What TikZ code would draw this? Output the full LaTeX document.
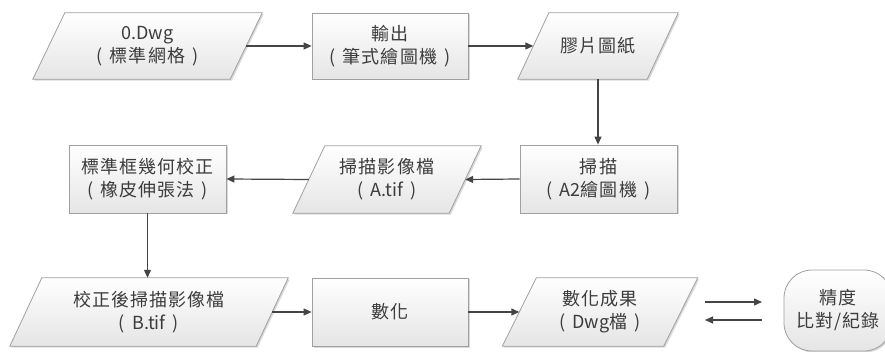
\documentclass[tikz,border=0pt]{standalone}
\usepackage{fontspec}
\setmainfont{Noto Sans CJK TC}
\usetikzlibrary{arrows.meta,shadows}
\definecolor{txt}{HTML}{3C3C3C}
\definecolor{edge}{HTML}{A0A0A0}
\definecolor{shadeb}{HTML}{E5E5E5}
\definecolor{lin}{HTML}{454545}
\pgfdeclarelayer{bg}
\pgfsetlayers{bg,main}
\newcommand\gapsp{\hspace{0.4em}}
\newcommand\lat[1]{{\addfontfeature{LetterSpace=0}#1}}
\tikzset{
  lbl/.style={inner sep=0pt, minimum height=67pt, text=txt, align=center,
    font=\fontsize{18}{23}\selectfont\addfontfeature{LetterSpace=6}},
  boxnode/.style={lbl, draw=edge, line width=0.8pt, top color=white, bottom color=shadeb,
    drop shadow={shadow xshift=1.5pt, shadow yshift=-1.5pt, fill=black, opacity=0.15}},
  parafill/.style={draw=edge, line width=0.8pt, top color=white, bottom color=shadeb,
    drop shadow={shadow xshift=1.5pt, shadow yshift=-1.5pt, fill=black, opacity=0.15}},
  arr/.style={draw=lin, line width=1.2pt, -{Triangle[length=8pt,width=7pt]}},
}
\newcommand\parashape[2]{%
  \begin{pgfonlayer}{bg}
  \path[parafill] ([xshift=#2]#1.north west) -- ([xshift=#2]#1.north east)
    -- ([xshift=-#2]#1.south east) -- ([xshift=-#2]#1.south west) -- cycle;
  \end{pgfonlayer}}
\begin{document}
\begin{tikzpicture}[x=1pt,y=-1pt]
\begin{pgfonlayer}{bg}
\fill[white] (0,0) rectangle (885,352);
\end{pgfonlayer}
\useasboundingbox (0,0) rectangle (885,352);
% row 1
\node[lbl, minimum width=197pt, minimum height=66pt] (p1) at (147.5,46) {\lat{0.Dwg}\\(\gapsp 標準網格\gapsp)};
\parashape{p1}{16pt}
\node[boxnode, minimum width=156pt, minimum height=66pt] (b1) at (390,46) {輸出\\(\gapsp 筆式繪圖機\gapsp)};
\node[lbl, minimum width=129pt, minimum height=66pt] (p2) at (598,46) {膠片圖紙};
\parashape{p2}{15.5pt}
% row 2
\node[boxnode, minimum width=157pt, minimum height=68pt] (b2) at (598.5,179) {掃描\\(\gapsp \lat{A2}繪圖機\gapsp)};
\node[lbl, minimum width=156pt] (p3) at (387,179.5) {掃描影像檔\\(\gapsp \lat{A.tif}\gapsp)};
\parashape{p3}{16pt}
\node[boxnode, minimum width=157pt, minimum height=68pt] (b3) at (147.5,179) {標準框幾何校正\\(\gapsp 橡皮伸張法\gapsp)};
% row 3
\node[lbl, minimum width=246pt, minimum height=68pt] (p4) at (149,312) {校正後掃描影像檔\\(\gapsp \lat{B.tif}\gapsp)};
\parashape{p4}{16pt}
\node[boxnode, minimum width=156pt, minimum height=68pt] (b4) at (390,312) {數化};
\node[lbl, minimum width=161pt, minimum height=68pt] (p5) at (600,312) {數化成果\\(\gapsp \lat{Dwg}檔\gapsp)};
\parashape{p5}{17pt}
\node[boxnode, rounded corners=28pt, minimum width=108pt, minimum height=81pt] (r) at (838,310.5) {精度\\比對/紀錄};
% connectors
\draw[arr] (p1.east) -- (b1.west);
\draw[arr] (b1.east) -- (p2.west);
\draw[arr] (p2.south) -- (p2.south |- b2.north);
\draw[arr] (b2.west) -- (p3.east);
\draw[arr] (p3.west) -- (b3.east);
\draw[arr] (b3.south) -- (b3.south |- p4.north);
\draw[arr] (p4.east) -- (b4.west);
\draw[arr] (b4.east) -- (p5.west);
\coordinate (u1) at (705,302);
\coordinate (u2) at (762,302);
\coordinate (l1) at (762,320);
\coordinate (l2) at (705,320);
\draw[arr] (u1) -- (u2);
\draw[arr] (l1) -- (l2);
\end{tikzpicture}
\end{document}
